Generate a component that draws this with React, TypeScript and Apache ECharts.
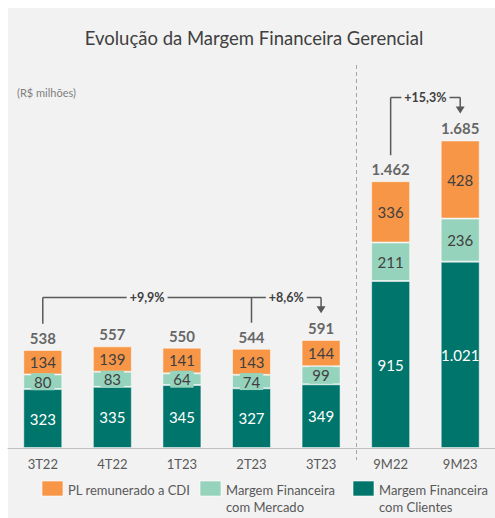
import React, { useEffect, useRef } from "react";
import * as echarts from "echarts";

const categories = ["3T22", "4T22", "1T23", "2T23", "3T23", "9M22", "9M23"];
const clientes = [323, 335, 345, 327, 349, 915, 1021];
const mercado = [80, 83, 64, 74, 99, 211, 236];
const plCdi = [134, 139, 141, 143, 144, 336, 428];
const totals = [538, 557, 550, 544, 591, 1462, 1685];
const seriesNames = ["PL remunerado a CDI", "Margem Financeira\ncom Mercado", "Margem Financeira\ncom Clientes"];
const seriesColors = ["#F79646", "#95D3BD", "#00756C"];
const growthLabels = ["+9,9%", "+8,6%", "+15,3%"];
const growthFrom = [0, 3, 5];
const growthTo = [4, 4, 6];
const titleText = "Evolução da Margem Financeira Gerencial";
const unitText = "(R$ milhões)";
const separatorAfter = 4;

const FONT = "Lato, 'Open Sans', sans-serif";
const DARK = "#404040";
const LINE = "#595959";
const BG = "#F2F2F2";

const fmt = (n: number) => String(n).replace(/\B(?=(\d{3})+(?!\d))/g, ".");

const baseOption: any = {
  animation: false,
  backgroundColor: "#FFFFFF",
  textStyle: { fontFamily: FONT },
  title: [
    {
      text: titleText,
      left: 254,
      top: 28,
      padding: 0,
      textAlign: "center",
      textStyle: { fontSize: 18.5, fontWeight: "normal", color: DARK, fontFamily: FONT },
    },
    {
      text: unitText,
      left: 17,
      top: 87,
      padding: 0,
      textStyle: { fontSize: 11, fontWeight: "normal", color: "#7F7F7F", fontFamily: FONT },
    },
  ],
  grid: { left: 8, top: 83, width: 490, height: 365 },
  xAxis: {
    type: "category",
    data: categories,
    axisLine: { lineStyle: { color: "#BFBFBF", width: 1 } },
    axisTick: { show: false },
    axisLabel: { color: LINE, fontSize: 13, margin: 9, fontFamily: FONT },
  },
  yAxis: { type: "value", min: 0, max: 2000, show: false },
  series: [
    {
      name: seriesNames[2],
      type: "bar",
      stack: "total",
      barWidth: 39,
      data: clientes,
      itemStyle: { color: seriesColors[2], borderColor: "rgba(255,255,255,0.5)", borderWidth: 1 },
      label: {
        show: true,
        position: "inside",
        color: "#FFFFFF",
        fontSize: 15,
        fontFamily: FONT,
        formatter: (p: any) => fmt(p.value),
      },
    },
    {
      name: seriesNames[1],
      type: "bar",
      stack: "total",
      barWidth: 39,
      data: mercado,
      itemStyle: { color: seriesColors[1], borderColor: "rgba(255,255,255,0.5)", borderWidth: 1 },
      label: {
        show: true,
        position: "inside",
        color: DARK,
        fontSize: 15,
        fontFamily: FONT,
        backgroundColor: seriesColors[1],
        padding: [1, 3],
        formatter: (p: any) => fmt(p.value),
      },
    },
    {
      name: seriesNames[0],
      type: "bar",
      stack: "total",
      barWidth: 39,
      data: plCdi,
      itemStyle: { color: seriesColors[0], borderColor: "rgba(255,255,255,0.5)", borderWidth: 1 },
      label: {
        show: true,
        position: "inside",
        color: DARK,
        fontSize: 15,
        fontFamily: FONT,
        formatter: (p: any) => fmt(p.value),
      },
    },
    {
      name: "Total",
      type: "scatter",
      data: totals,
      symbolSize: 1,
      itemStyle: { color: "transparent" },
      label: {
        show: true,
        position: "top",
        distance: 4,
        color: DARK,
        fontSize: 15,
        fontWeight: "bold",
        fontFamily: FONT,
        formatter: (p: any) => fmt(p.value),
      },
      z: 5,
    },
  ],
};

export default function App() {
  const ref = useRef<HTMLDivElement>(null);
  useEffect(() => {
    const chart = echarts.init(ref.current!, null, { renderer: "svg" });
    chart.setOption(baseOption);

    const px = (i: number, v: number): number[] =>
      chart.convertToPixel({ xAxisIndex: 0, yAxisIndex: 0 }, [i, v]) as number[];
    const barTop = (i: number) => px(i, totals[i])[1];
    const cx = (i: number) => px(i, 0)[0];

    const g: any[] = [];
    g.push({ type: "rect", z: -10, silent: true, shape: { x: 8, y: 8, width: 487, height: 510 }, style: { fill: BG } });

    // separator
    const sepX = Math.round((cx(separatorAfter) + cx(separatorAfter + 1)) / 2) + 0.5;
    g.push({
      type: "line",
      shape: { x1: sepX, y1: 65, x2: sepX, y2: 460 },
      style: { stroke: "#A6A6A6", lineWidth: 1, lineDash: [4, 3] },
    });

    // brackets grouped by target
    const targets = Array.from(new Set(growthTo));
    targets.forEach((t) => {
      const froms = growthFrom.filter((_, k) => growthTo[k] === t).sort((a, b) => a - b);
      const all = [...froms, t];
      const hY = Math.round(Math.min(...all.map(barTop)) - 43) + 0.5;
      const xt = cx(t);
      g.push({
        type: "line",
        shape: { x1: cx(froms[0]), y1: hY, x2: xt, y2: hY },
        style: { stroke: LINE, lineWidth: 1.5 },
      });
      froms.forEach((f) => {
        g.push({
          type: "line",
          shape: { x1: cx(f), y1: hY, x2: cx(f), y2: barTop(f) - 26 },
          style: { stroke: LINE, lineWidth: 1.5 },
        });
      });
      const tip = barTop(t) - 27;
      g.push({
        type: "line",
        shape: { x1: xt, y1: hY, x2: xt, y2: tip - 6 },
        style: { stroke: LINE, lineWidth: 1.5 },
      });
      g.push({
        type: "polygon",
        shape: { points: [[xt - 4.5, tip - 7], [xt + 4.5, tip - 7], [xt, tip]] },
        style: { fill: LINE },
      });
      growthLabels.forEach((lab, k) => {
        if (growthTo[k] !== t) return;
        const f = growthFrom[k];
        const next = froms.find((s) => s > f);
        const x2 = next !== undefined ? cx(next) : xt;
        g.push({
          type: "text",
          z: 3,
          x: (cx(f) + x2) / 2,
          y: hY,
          style: {
            text: lab,
            fontSize: 12.5,
            fontWeight: "bold",
            fontFamily: FONT,
            fill: DARK,
            align: "center",
            verticalAlign: "middle",
            backgroundColor: BG,
            padding: [1, 3],
          },
        });
      });
    });

    // legend
    const legendX = [42, 200, 353];
    seriesNames.forEach((name, i) => {
      g.push({
        type: "rect",
        shape: { x: legendX[i], y: 481, width: 21, height: 15 },
        style: { fill: seriesColors[i], stroke: "rgba(255,255,255,0.6)", lineWidth: 1 },
      });
      g.push({
        type: "text",
        x: legendX[i] + 26,
        y: 481,
        style: {
          text: name,
          fontSize: 13,
          fontFamily: FONT,
          fill: LINE,
          lineHeight: 17,
          align: "left",
          verticalAlign: "top",
        },
      });
    });

    chart.setOption({ graphic: g });
    return () => chart.dispose();
  }, []);
  return <div ref={ref} style={{ position: "absolute", left: 0, top: 0, width: 495, height: 518 }} />;
}
